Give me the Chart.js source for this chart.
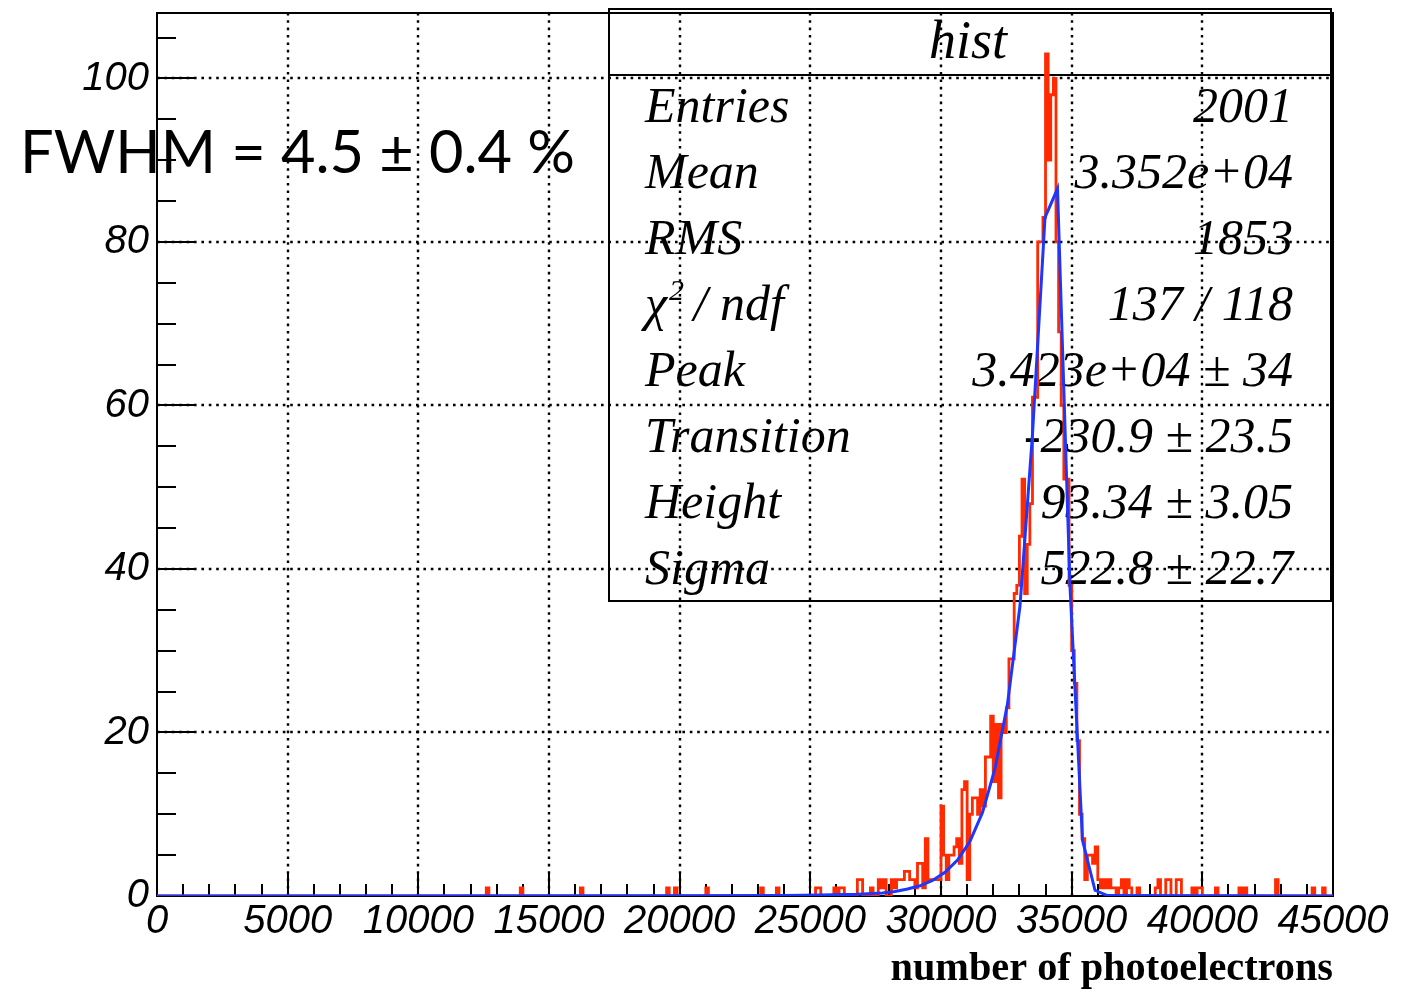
<!DOCTYPE html>
<html>
<head>
<meta charset="utf-8">
<script src="https://cdn.jsdelivr.net/npm/chart.js@4.4.1/dist/chart.umd.min.js"></script>
<style>
  html, body { margin: 0; padding: 0; background: #ffffff; }
  #wrap { position: relative; width: 1422px; height: 992px; }
</style>
</head>
<body>
<div id="wrap"><canvas id="c" width="1422" height="992"></canvas></div>
<script>
// Axis ranges
const xMin = 0, xMax = 45000, binWidth = 100;
const yMin = 0, yMax = 108;

// Histogram: lower edge of every filled bin and its count
const binLow = [
  12600, 13900, 16200, 19500, 19800, 21000, 23100, 23700,
  25200, 25300, 25900, 26100, 26200, 26800, 26900, 27300, 27600, 27700, 27800,
  28100, 28200, 28300, 28400, 28500, 28600, 28700, 28800, 28900, 29000,
  29100, 29200, 29300, 29400, 29500, 29600, 29700, 29800, 29900,
  30000, 30100, 30200, 30300, 30400, 30500, 30600, 30700, 30800, 30900,
  31000, 31100, 31200, 31300, 31400, 31500, 31600, 31700, 31800, 31900,
  32000, 32100, 32200, 32300, 32400, 32500, 32600, 32700, 32800, 32900,
  33000, 33100, 33200, 33300, 33400, 33500, 33600, 33700, 33800, 33900,
  34000, 34100, 34200, 34300, 34400, 34500, 34600, 34700, 34800, 34900,
  35000, 35100, 35200, 35300, 35400, 35500, 35600, 35700, 35800, 35900,
  36000, 36100, 36200, 36300, 36400, 36500, 36600,
  36800, 36900, 37100, 37200, 37500, 38200, 38300, 38600, 38700, 39000, 39100,
  39600, 39800, 39900, 40500, 41400, 41600, 42800, 44200, 44600
];
const binCount = [
  1, 1, 1, 1, 1, 1, 1, 1,
  1, 1, 1, 1, 1, 2, 2, 1, 2, 1, 2,
  2, 1, 2, 2, 2, 3, 3, 2, 2, 1,
  4, 4, 1, 7, 2, 2, 2, 2, 2,
  11, 5, 2, 5, 5, 6, 7, 4, 13, 14,
  2, 10, 12, 12, 10, 13, 11, 17, 17, 22,
  14, 21, 12, 21, 20, 23, 29, 29, 37, 38,
  44, 51, 37, 43, 48, 61, 61, 80, 80, 83,
  103, 90, 98, 100, 80, 69, 60, 51, 51, 38,
  30, 26, 19, 10, 7, 2, 5, 5, 4, 6,
  2, 1, 2, 1, 2, 1, 1,
  1, 2, 2, 1, 1, 1, 2, 2, 2, 2, 2,
  1, 1, 1, 1, 1, 1, 2, 1, 1
];

// Fitted curve, as drawn (polyline vertices)
const fitX = [0, 20000, 24000, 25370, 26805, 27762, 28240, 28719, 29197, 29675, 30153, 30632,
              31110, 31588, 32067, 32545, 33023, 33501, 33980, 34458, 34937, 35415, 35893, 36371, 45000];
const fitY = [0, 0.02, 0.06, 0.12, 0.2, 0.36, 0.55, 0.85, 1.25, 1.9, 2.9, 4.4,
              6.7, 10.2, 15.6, 23.5, 35.5, 56.5, 83, 86.5, 37.8, 6.8, 0.7, 0.05, 0];

// Tick labels
const xTicks = [0, 5000, 10000, 15000, 20000, 25000, 30000, 35000, 40000, 45000];
const yTicks = [0, 20, 40, 60, 80, 100];
const xMinorStep = 1000, yMinorStep = 5;

// Statistics box
const statTitle = 'hist';
const statLabels = ['Entries', 'Mean', 'RMS', 'χ2 / ndf', 'Peak', 'Transition', 'Height', 'Sigma'];
const statValues = ['2001', '3.352e+04', '1853', '137 / 118', '3.423e+04 ± 34', '-230.9 ± 23.5', '93.34 ± 3.05', '522.8 ± 22.7'];

const xTitle = 'number of photoelectrons';
const note = 'FWHM = 4.5 ± 0.4 %';

// Build the stepped outline from the bin list
const nBins = Math.round((xMax - xMin) / binWidth);
const counts = new Array(nBins).fill(0);
binLow.forEach((lo, i) => { counts[Math.round((lo - xMin) / binWidth)] = binCount[i]; });
const histPoints = counts.map((c, i) => ({ x: xMin + i * binWidth, y: c }));
histPoints.push({ x: xMax, y: 0 });
const fitPoints = fitX.map((v, i) => ({ x: v, y: fitY[i] }));

const SERIF = "'Liberation Serif', 'Times New Roman', serif";
const SANS = "'Liberation Sans', Arial, sans-serif";

const rootStyle = {
  id: 'rootStyle',
  beforeDatasetsDraw(chart) {
    const { ctx, chartArea: a, scales: { x, y } } = chart;
    ctx.save();
    ctx.strokeStyle = '#000';

    // dotted grid at the major ticks
    ctx.lineWidth = 2.4;
    ctx.setLineDash([2.6, 4.8]);
    xTicks.forEach(v => {
      if (v <= xMin || v >= xMax) return;
      const px = Math.round(x.getPixelForValue(v));
      ctx.beginPath(); ctx.moveTo(px, a.bottom); ctx.lineTo(px, a.top); ctx.stroke();
    });
    yTicks.forEach(v => {
      if (v <= yMin || v >= yMax) return;
      const py = Math.round(y.getPixelForValue(v));
      ctx.beginPath(); ctx.moveTo(a.left, py); ctx.lineTo(a.right, py); ctx.stroke();
    });
    ctx.setLineDash([]);

    ctx.lineWidth = 2;
    // inward ticks on the x axis
    for (let v = xMin; v <= xMax; v += xMinorStep) {
      const px = Math.round(x.getPixelForValue(v));
      const len = (v % 5000 === 0) ? 23 : 12;
      ctx.beginPath(); ctx.moveTo(px, a.bottom); ctx.lineTo(px, a.bottom - len); ctx.stroke();
    }
    // inward ticks on the y axis
    for (let v = yMin; v <= yMax; v += yMinorStep) {
      const py = Math.round(y.getPixelForValue(v));
      const len = (v % 20 === 0) ? 38 : 19;
      ctx.beginPath(); ctx.moveTo(a.left, py); ctx.lineTo(a.left + len, py); ctx.stroke();
    }

    // frame
    ctx.strokeRect(a.left, a.top, a.right - a.left, a.bottom - a.top);

    // statistics box
    const bx = 609, by = 9, bw = 722, bh = 592;
    ctx.strokeRect(bx, by, bw, bh);
    ctx.beginPath(); ctx.moveTo(bx, 75); ctx.lineTo(bx + bw, 75); ctx.stroke();

    ctx.fillStyle = '#000';
    ctx.textBaseline = 'alphabetic';
    ctx.font = `italic 54px ${SERIF}`;
    ctx.textAlign = 'center';
    ctx.fillText(statTitle, 968, 58);

    ctx.font = `italic 50px ${SERIF}`;
    statLabels.forEach((lab, i) => {
      const base = 122 + 66 * i;
      ctx.textAlign = 'left';
      if (lab.startsWith('χ2')) {
        ctx.fillText('χ', 645, base);
        const w = ctx.measureText('χ').width;
        ctx.font = `italic 30px ${SERIF}`;
        ctx.fillText('2', 645 + w + 2, base - 20);
        ctx.font = `italic 50px ${SERIF}`;
        ctx.fillText(' / ndf', 645 + w + 14, base);
      } else {
        ctx.fillText(lab, 645, base);
      }
      ctx.textAlign = 'right';
      ctx.fillText(statValues[i], 1293, base);
    });
    ctx.restore();
  },
  afterDraw(chart) {
    const { ctx, chartArea: a, scales: { x, y } } = chart;
    ctx.save();
    ctx.fillStyle = '#000';

    // tick labels
    ctx.font = `italic 40px ${SANS}`;
    ctx.textAlign = 'right';
    ctx.textBaseline = 'middle';
    yTicks.forEach(v => ctx.fillText(String(v), 149, y.getPixelForValue(v)));
    ctx.textAlign = 'center';
    xTicks.forEach(v => ctx.fillText(String(v), x.getPixelForValue(v), 922));

    // axis title
    ctx.textAlign = 'right';
    ctx.textBaseline = 'alphabetic';
    let fs = 40;
    ctx.font = `bold ${fs}px ${SERIF}`;
    fs = fs * 443 / ctx.measureText(xTitle).width;
    ctx.font = `bold ${fs.toFixed(1)}px ${SERIF}`;
    ctx.fillText(xTitle, a.right, 980);

    // resolution note
    ctx.textAlign = 'left';
    let ns = 60;
    ctx.font = `${ns}px Lato, 'Noto Sans', sans-serif`;
    ns = ns * 555 / ctx.measureText(note).width;
    ctx.font = `${ns.toFixed(1)}px Lato, 'Noto Sans', sans-serif`;
    ctx.fillText(note, 20, 173);
    ctx.restore();
  }
};

new Chart(document.getElementById('c'), {
  type: 'line',
  data: {
    datasets: [
      {
        label: 'fit',
        data: fitPoints,
        borderColor: 'rgb(30, 55, 255)',
        borderWidth: 3,
        pointRadius: 0,
        tension: 0,
        fill: false
      },
      {
        label: 'hist',
        data: histPoints,
        stepped: 'before',
        borderColor: 'rgb(255, 42, 0)',
        borderWidth: 2.8,
        pointRadius: 0,
        fill: false
      }
    ]
  },
  options: {
    responsive: false,
    animation: false,
    devicePixelRatio: 1,
    layout: { padding: { left: 157, top: 13, right: 89, bottom: 96 } },
    plugins: { legend: { display: false }, tooltip: { enabled: false } },
    scales: {
      x: { type: 'linear', min: xMin, max: xMax, display: false },
      y: { type: 'linear', min: yMin, max: yMax, display: false }
    }
  },
  plugins: [rootStyle]
});
</script>
</body>
</html>
